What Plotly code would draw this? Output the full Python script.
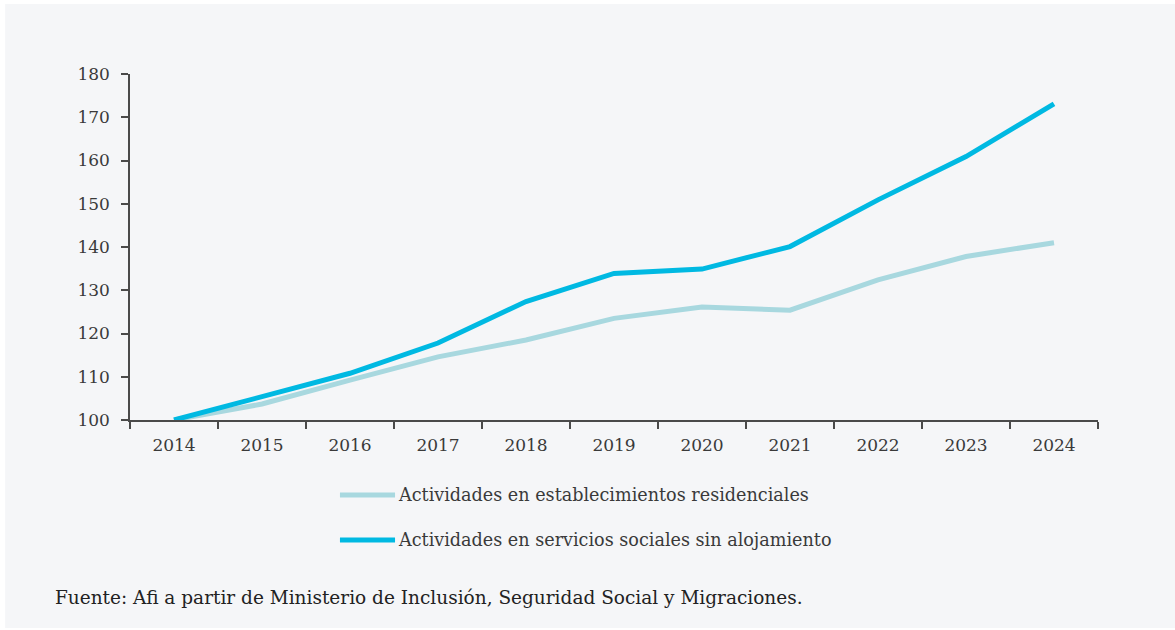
import plotly.graph_objects as go

# Index (2014 = 100) of employment in social-care activities
years = ["2014", "2015", "2016", "2017", "2018", "2019", "2020", "2021", "2022", "2023", "2024"]
residenciales = [100.0, 103.7, 109.2, 114.6, 118.5, 123.5, 126.1, 125.4, 132.4, 137.8, 141.0]
sin_alojamiento = [100.0, 105.5, 110.8, 117.8, 127.4, 133.9, 134.9, 140.1, 150.9, 160.9, 173.1]

name_res = "Actividades en establecimientos residenciales"
name_sin = "Actividades en servicios sociales sin alojamiento"
source_text = "Fuente: Afi a partir de Ministerio de Inclusión, Seguridad Social y Migraciones."

BG = "#f5f6f8"
AXIS = "#4a4a4a"
TEXT = "#3a3a3a"
SERIF = "DejaVu Serif, serif"
COL_RES = "#a8d8df"
COL_SIN = "#00b9e2"

fig = go.Figure()
fig.add_trace(go.Scatter(
    x=years, y=residenciales, mode="lines", name=name_res,
    line=dict(color=COL_RES, width=5),
))
fig.add_trace(go.Scatter(
    x=years, y=sin_alojamiento, mode="lines", name=name_sin,
    line=dict(color=COL_SIN, width=5),
))

# light panel behind the whole chart
fig.add_shape(type="rect", xref="paper", yref="paper",
              x0=-0.129, x1=1.08, y0=-0.601, y1=1.202,
              fillcolor=BG, line_width=0, layer="below")

# legend drawn below the axis: long line sample followed by the series name
for (label, color, ypos) in [(name_res, COL_RES, -0.2168), (name_sin, COL_SIN, -0.3468)]:
    fig.add_shape(type="line", xref="paper", yref="paper",
                  x0=0.2169, x1=0.2738, y0=ypos, y1=ypos,
                  line=dict(color=color, width=5))
    fig.add_annotation(text=label, xref="paper", yref="paper",
                       x=0.2745, y=ypos, xanchor="left", yanchor="middle",
                       showarrow=False,
                       font=dict(family=SERIF, size=17.6, color=TEXT))

fig.add_annotation(text=source_text, xref="paper", yref="paper",
                   x=-0.0795, y=-0.514, xanchor="left", yanchor="middle",
                   showarrow=False, font=dict(family=SERIF, size=18.5, color="#222222"))

fig.update_layout(
    width=1175, height=630,
    margin=dict(l=130, r=77, t=74, b=210),
    paper_bgcolor="white", plot_bgcolor=BG,
    font=dict(family=SERIF, size=17, color=TEXT),
    showlegend=False,
    xaxis=dict(type="category", range=[-0.5, 10.5], tickson="boundaries",
               showline=True, linecolor=AXIS, linewidth=1.5,
               ticks="outside", ticklen=7, tickcolor=AXIS, tickwidth=1.5,
               ticklabelstandoff=9,
               showgrid=False, zeroline=False,
               tickfont=dict(family=SERIF, size=17, color=TEXT)),
    yaxis=dict(range=[100, 180], dtick=10, tick0=100,
               showline=True, linecolor=AXIS, linewidth=1.5,
               ticks="outside", ticklen=7, tickcolor=AXIS, tickwidth=1.5,
               ticklabelstandoff=8,
               showgrid=False, zeroline=False,
               tickfont=dict(family=SERIF, size=17, color=TEXT)),
)

fig.write_html("out.html")
